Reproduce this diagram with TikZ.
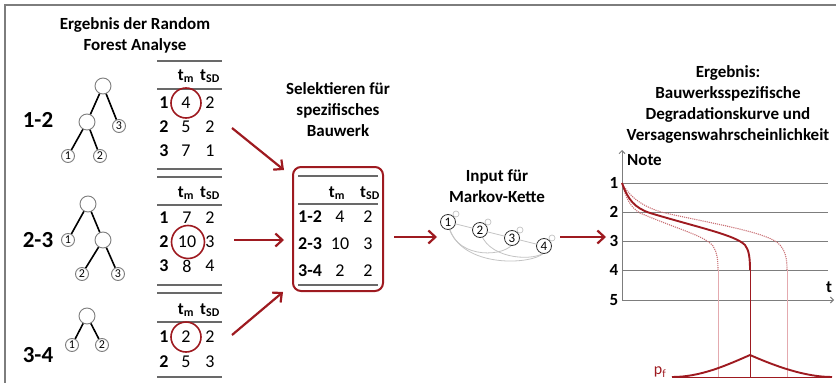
\documentclass[tikz,border=0pt]{standalone}
\usepackage{fontspec}
\setmainfont{Carlito}
\usetikzlibrary{arrows.meta}
\definecolor{dred}{RGB}{158,26,32}
\definecolor{lred}{RGB}{200,110,115}
\definecolor{pred}{RGB}{228,170,175}
\definecolor{fgray}{RGB}{125,125,125}
\definecolor{rgray}{RGB}{105,105,105}
\definecolor{mgray}{RGB}{195,195,195}
\tikzset{
 title/.style={font=\fontsize{17}{21}\selectfont\bfseries, align=center, inner sep=0},
 biglab/.style={font=\fontsize{23}{25}\selectfont\bfseries, inner sep=0},
 rowlab/.style={font=\fontsize{18}{20}\selectfont\bfseries, inner sep=0},
 val/.style={font=\fontsize{18}{20}\selectfont, inner sep=0},
 hdr/.style={font=\fontsize{17}{20}\selectfont\bfseries, inner sep=0},
 tabrule/.style={draw=rgray, line width=1.6pt},
 innernode/.style={circle, draw=fgray, fill=white, line width=0.9pt, minimum size=16pt, inner sep=0},
 leafnode/.style={circle, draw=fgray, fill=white, line width=0.9pt, minimum size=13pt, inner sep=0, font=\fontsize{12}{12}\selectfont},
 treeedge/.style={line width=1.6pt, black},
 hl/.style={circle, draw=dred, line width=1.6pt, inner sep=0},
 rarrow/.style={draw=dred, line width=2.2pt, -{Straight Barb[length=7pt,width=13pt]}},
 mknode/.style={circle, draw=black!80, fill=white, line width=0.8pt, minimum size=15pt, inner sep=0, font=\fontsize{13}{13}\selectfont},
 loopnode/.style={circle, draw=mgray, line width=0.7pt, minimum size=6pt, inner sep=0},
 mkedge/.style={draw=mgray, line width=0.8pt},
 axis/.style={draw=fgray, line width=1pt},
 numlab/.style={font=\fontsize{17}{17}\selectfont\bfseries, inner sep=0},
}
\begin{document}
\begin{tikzpicture}[x=1pt,y=-1pt]
\useasboundingbox (0,0) rectangle (836,383);
% frame
\draw[fgray, line width=1.5pt] (5,383) -- (5,5) -- (836,5);

% ---------- left title
\node[title] (lt) at (135,35) {Ergebnis der Random\\Forest Analyse};

% ---------- row labels
\node[biglab] (g12) at (38,120) {1-2};
\node[biglab] (g23) at (38,240) {2-3};
\node[biglab] (g34) at (38,355) {3-4};

% ---------- tree 1
\node[innernode] (r1) at (103,86) {};
\node[innernode] (n1) at (87,122) {};
\node[leafnode] (a3) at (119,126) {3};
\node[leafnode] (a1) at (68,156) {1};
\node[leafnode] (a2) at (100,156) {2};
\draw[treeedge] (r1) -- (n1);
\draw[treeedge] (r1) -- (a3);
\draw[treeedge] (n1) -- (a1);
\draw[treeedge] (n1) -- (a2);

% ---------- tree 2
\node[innernode] (r2) at (88,204) {};
\node[leafnode] (b1) at (68,240) {1};
\node[innernode] (m2) at (103,240) {};
\node[leafnode] (b2) at (82,274) {2};
\node[leafnode] (b3) at (118,274) {3};
\draw[treeedge] (r2) -- (b1);
\draw[treeedge] (r2) -- (m2);
\draw[treeedge] (m2) -- (b2);
\draw[treeedge] (m2) -- (b3);

% ---------- tree 3
\node[innernode] (r3) at (87,316) {};
\node[leafnode] (c1) at (72,345) {1};
\node[leafnode] (c2) at (102,345) {2};
\draw[treeedge] (r3) -- (c1);
\draw[treeedge] (r3) -- (c2);

% ---------- tables
\draw[tabrule] (157,61) -- (222,61);
\node[hdr] (h1m) at (186,76) {t\textsubscript{m}};
\node[hdr] (h1s) at (210,76) {t\textsubscript{SD}};
\draw[tabrule] (157,89) -- (222,89);
\foreach \y/\r/\a/\b [count=\i] in {103/1/4/2,127/2/5/2,151/3/7/1}{
  \node[rowlab] (ta\i) at (164,\y) {\r};
  \node[val] (tb\i) at (186,\y) {\a};
  \node[val] (tc\i) at (210,\y) {\b};
}
\draw[tabrule] (157,169) -- (222,169);
\draw[tabrule] (157,177) -- (222,177);
\node[hdr] (h2m) at (186,193) {t\textsubscript{m}};
\node[hdr] (h2s) at (210,193) {t\textsubscript{SD}};
\draw[tabrule] (157,205) -- (222,205);
\foreach \y/\r/\a/\b [count=\i] in {218/1/7/2,242/2/10/3,266/3/8/4}{
  \node[rowlab] (ua\i) at (164,\y) {\r};
  \node[val] (ub\i) at (187,\y) {\a};
  \node[val] (uc\i) at (210,\y) {\b};
}
\draw[tabrule] (157,285) -- (222,285);
\draw[tabrule] (157,293) -- (222,293);
\node[hdr] (h3m) at (186,310) {t\textsubscript{m}};
\node[hdr] (h3s) at (210,310) {t\textsubscript{SD}};
\draw[tabrule] (157,322) -- (222,322);
\foreach \y/\r/\a/\b [count=\i] in {337/1/2/2,362/2/5/3}{
  \node[rowlab] (va\i) at (164,\y) {\r};
  \node[val] (vb\i) at (186,\y) {\a};
  \node[val] (vc\i) at (210,\y) {\b};
}
\draw[tabrule] (157,377) -- (222,377);

% highlight circles
\node[hl, minimum size=30pt] (hl1) at (186,103) {};
\node[hl, minimum size=33pt] (hl2) at (188,242) {};
\node[hl, minimum size=30pt] (hl3) at (186,337) {};

% ---------- middle
\node[title] (mt) at (338,110) {Selektieren für\\spezifisches\\Bauwerk};
\node[draw=dred, line width=2pt, rounded corners=8pt, minimum width=90pt, minimum height=124pt, inner sep=0] (box) at (338,229) {};
\draw[tabrule] (298,176) -- (378,176);
\node[hdr] (bhm) at (337,193) {t\textsubscript{m}};
\node[hdr] (bhs) at (370,193) {t\textsubscript{SD}};
\draw[tabrule] (298,204) -- (378,204);
\foreach \y/\r/\a/\b [count=\i] in {217/1-2/4/2,244/2-3/10/3,271/3-4/2/2}{
  \node[rowlab] (wa\i) at (310,\y) {\r};
  \node[val] (wb\i) at (340,\y) {\a};
  \node[val] (wc\i) at (368,\y) {\b};
}
\draw[tabrule] (298,285) -- (378,285);

% arrows into box
\coordinate (s1) at (232,128);
\coordinate (e1) at (284,170);
\coordinate (s2) at (234,240);
\coordinate (e2) at (284,240);
\coordinate (s3) at (232,335);
\coordinate (e3) at (283,292);
\draw[rarrow] (s1) -- (e1);
\draw[rarrow] (s2) -- (e2);
\draw[rarrow] (s3) -- (e3);

% ---------- Markov
\coordinate (s4) at (394,237);
\coordinate (e4) at (437,237);
\draw[rarrow] (s4) -- (e4);
\node[title] (kt) at (497,186) {Input für\\Markov-Kette};
\node[loopnode] (o1) at (456,214) {};
\node[loopnode] (o2) at (488,222) {};
\node[loopnode] (o3) at (520,230) {};
\node[loopnode] (o4) at (552,238) {};
\draw[mkedge] (448,222) .. controls (452,258) and (500,258) .. (512,245);
\draw[mkedge] (448,222) .. controls (455,268) and (530,266) .. (544,253);
\draw[mkedge] (480,230) .. controls (485,258) and (530,262) .. (544,253);
\node[mknode] (k1) at (448,222) {1};
\node[mknode] (k2) at (480,230) {2};
\node[mknode] (k3) at (512,238) {3};
\node[mknode] (k4) at (544,246) {4};
\draw[mkedge] (k1) -- (k2);
\draw[mkedge] (k2) -- (k3);
\draw[mkedge] (k3) -- (k4);

\coordinate (s5) at (560,237);
\coordinate (e5) at (606,237);
\draw[rarrow] (s5) -- (e5);

% ---------- right
\node[title] (rt) at (728,104) {Ergebnis:\\Bauwerksspezifische\\Degradationskurve und\\Versagenswahrscheinlichkeit};
\coordinate (o) at (622,300);
\coordinate (ytop) at (622,150);
\coordinate (xend) at (834,300);
\draw[axis, -{Straight Barb[length=3pt,width=6pt]}] (o) -- (ytop);
\draw[axis, -{Straight Barb[length=3pt,width=6pt]}] (o) -- (xend);
\foreach \y/\n in {183/1,212/2,241/3,270/4}{
  \draw[axis] (622,\y) -- (828,\y);
  \node[numlab] (y\n) at (614,\y) {\n};
}
\node[numlab] (y5) at (614,300) {5};
\node[numlab, anchor=west] (note) at (627,160) {Note};
\node[numlab] (tl) at (829,287) {t};

% curves
\draw[lred, line width=1.1pt, densely dotted] (622,183) .. controls (626,198) and (630,207) .. (640,213) .. controls (680,230) and (705,236) .. (713,246) .. controls (717,252) and (718,260) .. (718,270);
\draw[lred, line width=1.1pt, densely dotted] (622,183) .. controls (630,198) and (645,208) .. (665,213) .. controls (720,225) and (770,233) .. (780,245) .. controls (786,252) and (787,260) .. (787,270);
\draw[pred, line width=0.8pt] (718,270) -- (718,378);
\draw[pred, line width=0.8pt] (787,270) -- (787,378);
\draw[dred, line width=1.9pt] (622,183) .. controls (628,200) and (635,208) .. (650,213) .. controls (700,228) and (735,235) .. (745,245) .. controls (749,250) and (750,258) .. (750,270);
\draw[dred, line width=0.8pt] (750,270) -- (750,378);

% p_f
\draw[dred, line width=0.8pt] (672,377) -- (832,377);
\draw[dred, line width=1.9pt] (672,377) .. controls (700,377) and (725,366) .. (750,355) .. controls (775,366) and (805,377) .. (832,377);
\node[font=\fontsize{16}{16}\selectfont, text=dred, inner sep=0] (pf) at (660,372) {p\textsubscript{f}};
\end{tikzpicture}
\end{document}
